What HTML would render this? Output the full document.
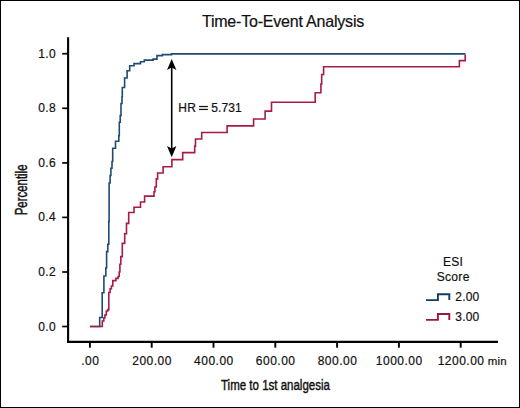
<!DOCTYPE html>
<html><head><meta charset="utf-8">
<style>
html,body{margin:0;padding:0;background:#fff;}
body{width:520px;height:408px;overflow:hidden;}
svg{display:block;}
text{font-family:"Liberation Sans",sans-serif;fill:#111;stroke:#111;stroke-width:0.2px;}
</style></head>
<body>
<svg width="520" height="408" viewBox="0 0 520 408">
<rect x="0.5" y="0.5" width="519" height="407" fill="#fff" stroke="#000" stroke-width="1"/>
<!-- title -->
<text x="283" y="27.3" font-size="16" text-anchor="middle" letter-spacing="-0.2">Time-To-Event Analysis</text>
<!-- axes -->
<line x1="68.1" y1="37.3" x2="68.1" y2="342.8" stroke="#000" stroke-width="2.1"/>
<line x1="67" y1="341.9" x2="498" y2="341.9" stroke="#000" stroke-width="2.1"/>
<!-- y ticks -->
<g stroke="#000" stroke-width="1.7">
<line x1="62.2" y1="53.7" x2="68" y2="53.7"/>
<line x1="62.2" y1="108.3" x2="68" y2="108.3"/>
<line x1="62.2" y1="162.9" x2="68" y2="162.9"/>
<line x1="62.2" y1="217.4" x2="68" y2="217.4"/>
<line x1="62.2" y1="272" x2="68" y2="272"/>
<line x1="62.2" y1="326.5" x2="68" y2="326.5"/>
</g>
<!-- x ticks -->
<g stroke="#000" stroke-width="1.9">
<line x1="89.9" y1="342" x2="89.9" y2="347.7"/>
<line x1="151.7" y1="342" x2="151.7" y2="347.7"/>
<line x1="213.5" y1="342" x2="213.5" y2="347.7"/>
<line x1="275.3" y1="342" x2="275.3" y2="347.7"/>
<line x1="337.1" y1="342" x2="337.1" y2="347.7"/>
<line x1="398.9" y1="342" x2="398.9" y2="347.7"/>
<line x1="460.7" y1="342" x2="460.7" y2="347.7"/>
</g>
<!-- y tick labels -->
<g font-size="12" text-anchor="end" letter-spacing="0.35">
<text x="56" y="57.7">1.0</text>
<text x="56" y="112.3">0.8</text>
<text x="56" y="166.9">0.6</text>
<text x="56" y="221.4">0.4</text>
<text x="56" y="276">0.2</text>
<text x="56" y="330.5">0.0</text>
</g>
<!-- x tick labels -->
<g font-size="12" text-anchor="middle" letter-spacing="0.5">
<text x="90.3" y="364.8">.00</text>
<text x="152.1" y="364.8">200.00</text>
<text x="213.9" y="364.8">400.00</text>
<text x="275.7" y="364.8">600.00</text>
<text x="337.5" y="364.8">800.00</text>
<text x="399.3" y="364.8">1000.00</text>
<text x="461.1" y="364.8">1200.00</text>
</g>
<text x="487.7" y="364.8" font-size="11.5" letter-spacing="0.2">min</text>
<!-- axis titles -->
<text transform="translate(221 390.4) scale(0.743 1)" font-size="15.5" style="stroke-width:0.45px">Time to 1st analgesia</text>
<text transform="translate(27.3 215.3) rotate(-90) scale(0.715 1)" font-size="16" style="stroke-width:0.45px">Percentile</text>
<!-- curves -->
<path fill="none" stroke="#1f4a72" stroke-width="1.6" stroke-linejoin="miter" d="M90 326.5 H99.7 V317.5 H102.2 V292.8 H103.9 V276 H105.8 V268 H106.6 V251.6 H107.8 V244.2 H108.8 V221.6 H109.1 V183 H110.1 V175.5 H110.9 V168.2 H112 V161.5 H112.7 V148.3 H115.5 V141.3 H118.8 V135.8 H119.3 V122.3 H120.2 V115.6 H121 V103.5 H122 V96.7 H122.3 V87.5 H124.6 V78 H127.1 V70.7 H129.7 V65.7 H134 V63.6 H140.5 V61.7 H144.3 V60.1 H153.1 V59.1 H157 V55.6 H162.4 V54.6 H171.6 V53.9 H465.4"/>
<path fill="none" stroke="#a81b44" stroke-width="1.6" stroke-linejoin="miter" d="M90 326.5 H102.3 V321 H103.8 V318 H104.9 V315 H106.3 V311 H107.8 V309.6 H108.8 V292.5 H110.1 V288.8 H111.4 V286 H112.8 V280.6 H115.9 V278.4 H118.1 V276.5 H119.2 V272 H119.9 V264.3 H120.8 V256.6 H122.3 V243.4 H124.7 V233.7 H126.5 V223.4 H128.7 V212.5 H134 V207.2 H140.5 V202 H144.6 V196.1 H154 V191.7 H154.9 V187 H156.3 V178.9 H157.6 V173 H163.1 V166.7 H171.9 V159.6 H182.7 V152.6 H194.7 V146.1 H195.5 V139 H201.7 V132.5 H227.1 V125.9 H253.6 V119 H265.1 V111.1 H271.5 V102.3 H315.2 V92.7 H320.9 V84 H321.7 V74.5 H323.6 V66.8 H459.4 V60.6 H465.2 V54.6"/>
<!-- HR arrow -->
<line x1="171.7" y1="66" x2="171.7" y2="149" stroke="#000" stroke-width="1.6"/>
<path d="M171.7 58.9 L176.4 69.9 L171.7 67.6 L167 69.9 Z" fill="#000"/>
<path d="M171.7 157.3 L176.4 146.1 L171.7 148.4 L167 146.1 Z" fill="#000"/>
<text x="178.3" y="111.5" font-size="12" letter-spacing="0.23">HR</text>
<rect x="199.1" y="105.9" width="8.8" height="1.25" fill="#111"/>
<rect x="199.1" y="108.8" width="8.8" height="1.25" fill="#111"/>
<text x="211.3" y="111.5" font-size="12" letter-spacing="0.1">5.731</text>
<!-- legend -->
<text x="453" y="265.8" font-size="12" letter-spacing="0.3" text-anchor="middle">ESI</text>
<text x="453.2" y="280.8" font-size="12" letter-spacing="0.3" text-anchor="middle">Score</text>
<path fill="none" stroke="#153a63" stroke-width="1.9" d="M426 300.1 H437.9 V294.2 H449.3 V300"/>
<path fill="none" stroke="#9e173f" stroke-width="1.9" d="M426 319.9 H437.9 V314 H449.3 V319.9"/>
<text x="455.3" y="300.7" font-size="12" letter-spacing="0.17">2.00</text>
<text x="455.3" y="320.6" font-size="12" letter-spacing="0.17">3.00</text>
</svg>
</body></html>
